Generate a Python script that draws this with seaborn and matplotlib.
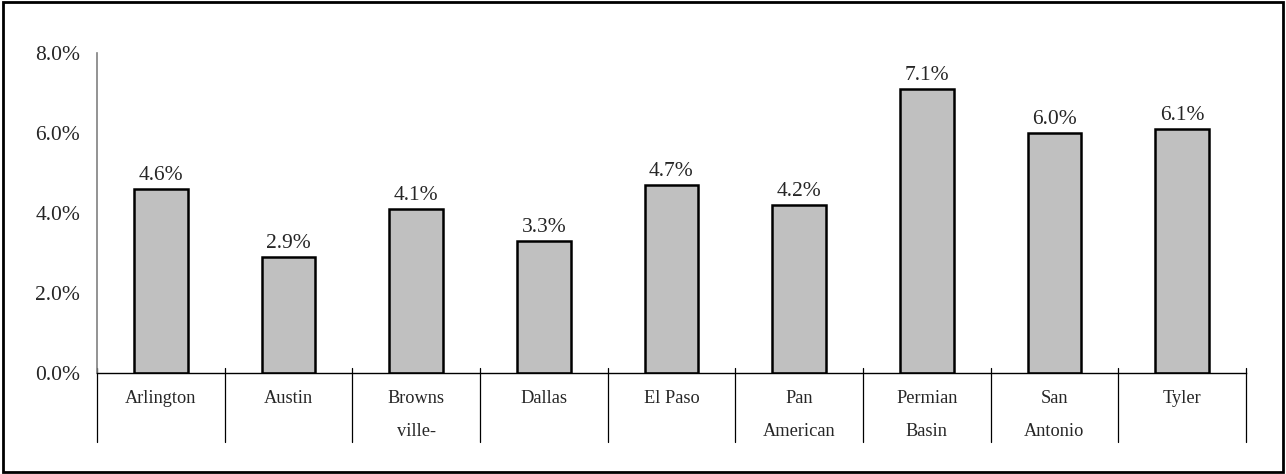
import pandas as pd
import seaborn as sns
import matplotlib.pyplot as plt
from matplotlib.patches import Rectangle
from matplotlib.ticker import FuncFormatter, MultipleLocator

# dati
regions = ["Arlington", "Austin", "Browns\nville-", "Dallas", "El Paso",
           "Pan\nAmerican", "Permian\nBasin", "San\nAntonio", "Tyler"]
values = [4.6, 2.9, 4.1, 3.3, 4.7, 4.2, 7.1, 6.0, 6.1]
value_labels = ["4.6%", "2.9%", "4.1%", "3.3%", "4.7%", "4.2%", "7.1%", "6.0%", "6.1%"]


def main():
    df = pd.DataFrame({"Region": regions, "Rate": values})

    sns.set_style("white")
    plt.rcParams["font.family"] = ["Liberation Serif", "DejaVu Serif"]
    fs = 15.5
    plt.rcParams["font.size"] = fs

    fig = plt.figure(figsize=(12.86, 4.74), dpi=100)
    ax = fig.add_axes([0.0754, 0.2131, 0.8935, 0.6751])

    sns.barplot(data=df, x="Region", y="Rate", color="#C0C0C0",
                edgecolor="black", linewidth=1.8, width=0.42,
                saturation=1, ax=ax)
    ax.bar_label(ax.containers[0], labels=value_labels, padding=3, fontsize=fs)

    ax.set_ylim(0, 8)
    ax.set_xlim(-0.5, len(regions) - 0.5)
    ax.yaxis.set_major_locator(MultipleLocator(2))
    ax.yaxis.set_major_formatter(FuncFormatter(lambda v, p: f"{v:.1f}%"))
    ax.set_xlabel("")
    ax.set_ylabel("")

    for s in ["top", "right"]:
        ax.spines[s].set_visible(False)
    ax.spines["left"].set_color("#808080")
    ax.spines["left"].set_linewidth(1.2)
    ax.spines["bottom"].set_color("black")
    ax.spines["bottom"].set_linewidth(1.0)

    ax.tick_params(axis="y", direction="out", length=5, width=1,
                   color="black", pad=7, labelsize=fs)
    ax.tick_params(axis="x", length=0, pad=12.5, labelsize=13.2)
    for lbl in ax.get_xticklabels():
        lbl.set_linespacing(2.2)
        lbl.set_verticalalignment("top")

    # separatori tra le categorie sotto l'asse
    trans = ax.get_xaxis_transform()
    for i in range(len(regions) + 1):
        ax.plot([i - 0.5, i - 0.5], [0.015, -0.215], transform=trans,
                color="black", linewidth=0.9, clip_on=False)

    # cornice esterna
    fig.patches.append(Rectangle((0.002, 0.004), 0.996, 0.992,
                                 transform=fig.transFigure, fill=False,
                                 edgecolor="black", linewidth=2))

    fig.savefig("out.png", dpi=100)
    plt.close(fig)


if __name__ == "__main__":
    main()
